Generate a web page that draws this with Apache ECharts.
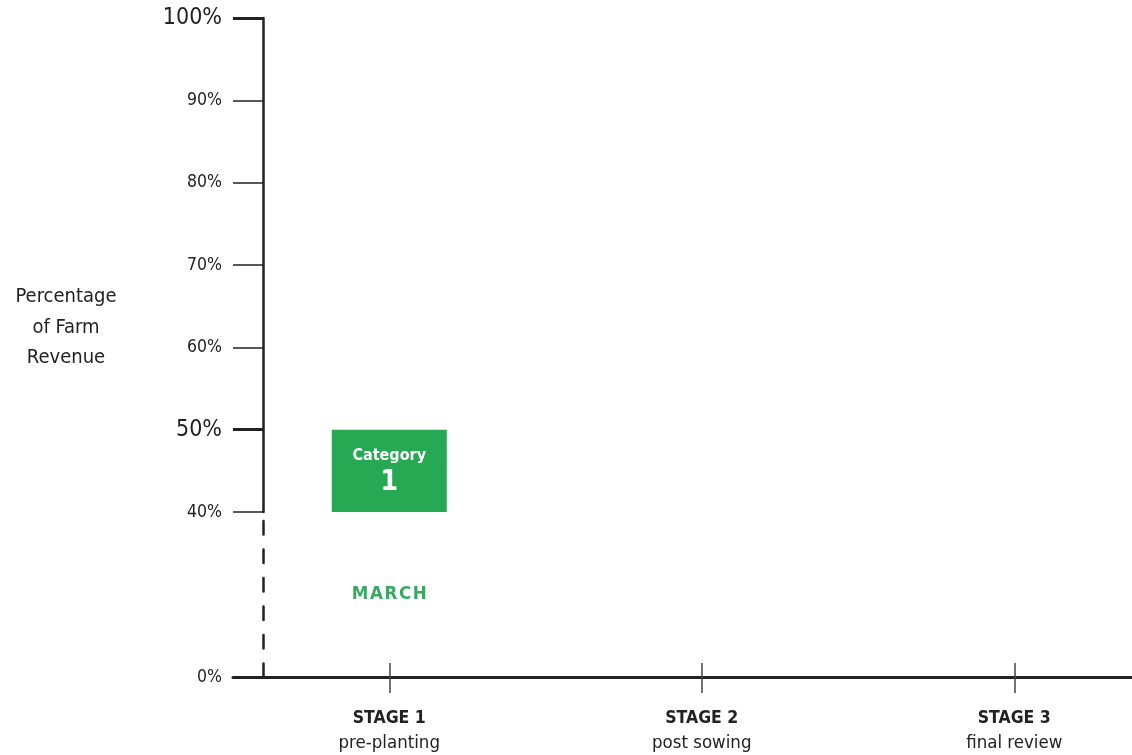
<!DOCTYPE html>
<html>
<head>
<meta charset="utf-8">
<script src="https://cdn.jsdelivr.net/npm/echarts@6/dist/echarts.min.js"></script>
<style>
html,body{margin:0;padding:0;background:#fff;}
#chart{width:1132px;height:755px;}
</style>
</head>
<body>
<div id="chart"></div>
<script>
// ---- data ----
const stages = ['STAGE 1', 'STAGE 2', 'STAGE 3'];
const stageNotes = ['pre-planting', 'post sowing', 'final review'];
const upperTicks = [40, 50, 60, 70, 80, 90, 100];
const majorTicks = [50, 100];
const lowerTicks = [0];
const boxStageIndex = [0];
const boxLow = [40];
const boxHigh = [50];
const boxTitle = ['Category'];
const boxNumber = ['1'];
const boxMonth = ['MARCH'];
const yTitle = 'Percentage\nof Farm\nRevenue';

const FONT = '"Liberation Sans Narrow", "DejaVu Sans Condensed", "Roboto Condensed", Roboto, sans-serif';
const GREEN = '#27a853';
const MONTH_GREEN = '#3aa862';
const INK = '#222222';

const boxData = boxStageIndex.map((s, i) => [s, boxLow[i], boxHigh[i], boxTitle[i], boxNumber[i]]);
const monthData = boxStageIndex.map((s, i) => [s, boxLow[i] / 2, boxMonth[i]]);

const GRID_LEFT = 233;
const BAND = 312.5;
const gridCommon = { left: GRID_LEFT, width: BAND * stages.length, outerBoundsMode: 'none', containLabel: false };

const chart = echarts.init(document.getElementById('chart'), null, { renderer: 'canvas' });

const option = {
  backgroundColor: '#ffffff',
  animation: false,
  textStyle: { fontFamily: FONT },
  grid: [
    Object.assign({ top: 18, height: 494 }, gridCommon),
    Object.assign({ top: 512, height: 165 }, gridCommon)
  ],
  graphic: [{
    type: 'text',
    x: 66, y: 282,
    style: {
      text: yTitle,
      align: 'center',
      fill: INK,
      font: '20px ' + FONT,
      lineHeight: 30.5
    }
  }],
  xAxis: [
    { type: 'category', gridIndex: 0, data: stages, show: false },
    {
      type: 'category', gridIndex: 1, data: stages, position: 'bottom',
      axisLine: { show: true, lineStyle: { color: INK, width: 3 } },
      axisTick: { show: true, alignWithLabel: true, length: 16, lineStyle: { color: '#444', width: 1.5 } },
      axisLabel: {
        margin: 29,
        formatter: (v, i) => '{a|' + v + '}\n{b|' + stageNotes[i] + '}',
        rich: {
          a: { fontFamily: FONT, fontSize: 17.5, fontWeight: 'bold', color: INK, lineHeight: 25 },
          b: { fontFamily: FONT, fontSize: 18.5, color: INK, lineHeight: 25 }
        }
      }
    },
    {
      type: 'category', gridIndex: 1, data: stages, position: 'bottom',
      axisLine: { show: false },
      axisTick: { show: true, inside: true, alignWithLabel: true, length: 14, lineStyle: { color: '#444', width: 1.5 } },
      axisLabel: { show: false }
    }
  ],
  yAxis: [
    {
      type: 'value', gridIndex: 0, position: 'left', min: 40, max: 100, interval: 10, offset: -30,
      splitLine: { show: false },
      axisLine: { show: true, lineStyle: { color: INK, width: 2.5 } },
      axisTick: { show: true, length: 30, customValues: upperTicks, lineStyle: { color: INK, width: 1.5 } },
      axisLabel: {
        margin: 41,
        customValues: upperTicks,
        formatter: v => (majorTicks.indexOf(v) >= 0 ? '{big|' + v + '%}' : '{small|' + v + '%}'),
        rich: {
          big: { fontFamily: FONT, fontSize: 23, color: INK },
          small: { fontFamily: FONT, fontSize: 17.5, color: INK }
        }
      }
    },
    {
      type: 'value', gridIndex: 0, position: 'left', min: 40, max: 100, interval: 10, offset: -30,
      splitLine: { show: false },
      axisLine: { show: false },
      axisLabel: { show: false },
      axisTick: { show: true, length: 30, customValues: majorTicks, lineStyle: { color: INK, width: 3 } }
    },
    {
      type: 'value', gridIndex: 1, position: 'left', min: 0, max: 40, interval: 40, offset: -30,
      splitLine: { show: false },
      axisLine: { show: true, lineStyle: { color: INK, width: 2.5, type: [13.5, 15] } },
      axisTick: { show: false },
      axisLabel: {
        margin: 41,
        customValues: lowerTicks,
        formatter: v => (lowerTicks.indexOf(v) >= 0 ? v + '%' : ''),
        fontFamily: FONT, fontSize: 17.5, color: INK
      }
    }
  ],
  series: [
    {
      type: 'custom',
      xAxisIndex: 0, yAxisIndex: 0,
      data: boxData,
      encode: { x: 0, y: [1, 2] },
      renderItem: function (params, api) {
        const top = api.coord([api.value(0), api.value(2)]);
        const bottom = api.coord([api.value(0), api.value(1)]);
        const band = api.size([1, 0])[0];
        const w = band * 0.368;
        const cx = top[0];
        const h = bottom[1] - top[1];
        return {
          type: 'group',
          children: [
            {
              type: 'rect',
              shape: { x: cx - w / 2, y: top[1], width: w, height: h },
              style: { fill: GREEN }
            },
            {
              type: 'text',
              x: cx, y: top[1] + h * 0.32,
              style: {
                text: api.value(3), align: 'center', verticalAlign: 'middle',
                fill: '#fff', font: 'bold 16px ' + FONT
              }
            },
            {
              type: 'text',
              x: cx, y: top[1] + h * 0.65,
              style: {
                text: api.value(4), align: 'center', verticalAlign: 'middle',
                fill: '#fff', font: 'bold 28px ' + FONT
              }
            }
          ]
        };
      }
    },
    {
      type: 'custom',
      xAxisIndex: 1, yAxisIndex: 2,
      data: monthData,
      encode: { x: 0, y: 1 },
      renderItem: function (params, api) {
        const p = api.coord([api.value(0), api.value(1)]);
        return {
          type: 'text',
          x: p[0], y: p[1],
          style: {
            text: api.value(2).split('').join('\u200A'), align: 'center', verticalAlign: 'middle',
            fill: MONTH_GREEN, font: 'bold 18.5px ' + FONT
          }
        };
      }
    }
  ]
};
chart.setOption(option);
</script>
</body>
</html>
